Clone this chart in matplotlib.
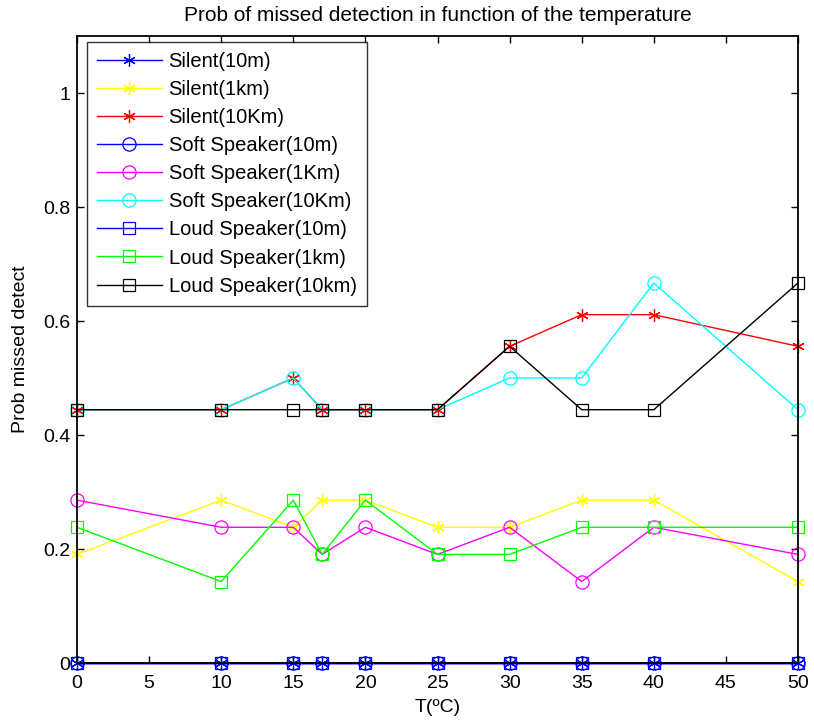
import matplotlib
matplotlib.use("Agg")
import matplotlib.pyplot as plt

plt.rcParams['font.family'] = ['Liberation Sans', 'DejaVu Sans']

temps = [0, 10, 15, 17, 20, 25, 30, 35, 40, 50]
silent_10m = [0, 0, 0, 0, 0, 0, 0, 0, 0, 0]
silent_1km = [0.1905, 0.2857, 0.2381, 0.2857, 0.2857, 0.2381, 0.2381, 0.2857, 0.2857, 0.1429]
silent_10km = [0.4444, 0.4444, 0.5, 0.4444, 0.4444, 0.4444, 0.5556, 0.6111, 0.6111, 0.5556]
soft_10m = [0, 0, 0, 0, 0, 0, 0, 0, 0, 0]
soft_1km = [0.2857, 0.2381, 0.2381, 0.1905, 0.2381, 0.1905, 0.2381, 0.1429, 0.2381, 0.1905]
soft_10km = [0.4444, 0.4444, 0.5, 0.4444, 0.4444, 0.4444, 0.5, 0.5, 0.6667, 0.4444]
loud_10m = [0, 0, 0, 0, 0, 0, 0, 0, 0, 0]
loud_1km = [0.2381, 0.1429, 0.2857, 0.1905, 0.2857, 0.1905, 0.1905, 0.2381, 0.2381, 0.2381]
loud_10km = [0.4444, 0.4444, 0.4444, 0.4444, 0.4444, 0.4444, 0.5556, 0.4444, 0.4444, 0.6667]

labels = ['Silent(10m)', 'Silent(1km)', 'Silent(10Km)',
          'Soft Speaker(10m)', 'Soft Speaker(1Km)', 'Soft Speaker(10Km)',
          'Loud Speaker(10m)', 'Loud Speaker(1km)', 'Loud Speaker(10km)']
series = [silent_10m, silent_1km, silent_10km, soft_10m, soft_1km, soft_10km,
          loud_10m, loud_1km, loud_10km]
colors = ['#0000ff', '#ffff00', '#ff0000', '#0000ff', '#ff00ff', '#00ffff',
          '#0000ff', '#00ff00', '#000000']
ast = (6, 2, 0)
markers = [ast, ast, ast, 'o', 'o', 'o', 's', 's', 's']
msizes = [9, 9, 9, 9.5, 9.5, 9.5, 9, 9, 9]

fig = plt.figure(figsize=(8.14, 7.22), dpi=100)
# axes: left 77px, right 798px, top 36px, bottom 663px
ax = fig.add_axes([77 / 814, 1 - 663 / 722, 721 / 814, 627 / 722])

for y, lab, c, m, ms in zip(series, labels, colors, markers, msizes):
    ax.plot(temps, y, color=c, marker=m, markersize=ms, markerfacecolor='none',
            markeredgecolor=c, markeredgewidth=0.9, linewidth=1.0, label=lab,
            clip_on=False)

ax.set_xlim(0, 50)
ax.set_ylim(0, 1.1)
ax.set_xticks(range(0, 51, 5))
ax.set_yticks([0, 0.2, 0.4, 0.6, 0.8, 1])
ax.set_yticklabels(['0', '0.2', '0.4', '0.6', '0.8', '1'])
ax.tick_params(direction='in', top=True, right=True, labelsize=14, length=5, width=1.0)
ax.tick_params(axis='x', pad=9)
ax.tick_params(axis='y', pad=5)
for s in ax.spines.values():
    s.set_linewidth(1.3)
ax.set_xlabel('T(ºC)', fontsize=14, labelpad=5)
ax.set_ylabel('Prob missed detect', fontsize=14, labelpad=10)
ax.set_title('Prob of missed detection in function of the temperature', fontsize=15, pad=11)

leg = ax.legend(loc='upper left', bbox_to_anchor=(10 / 721, 1 - 6 / 627),
                borderaxespad=0, fontsize=14.5, frameon=True, fancybox=False,
                edgecolor='black', handlelength=3.2, handletextpad=0.35,
                labelspacing=0.45, borderpad=0.5)
leg.get_frame().set_linewidth(1.0)

fig.savefig('out.png', dpi=100)
